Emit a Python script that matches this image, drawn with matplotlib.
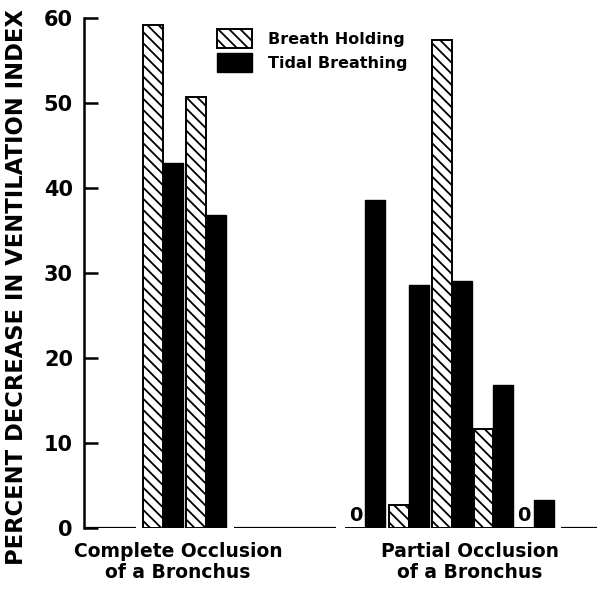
import numpy as np
import matplotlib
matplotlib.use('Agg')
import matplotlib.pyplot as plt
from matplotlib.patches import Patch

# data (percent decrease in ventilation index)
breath_holding = [59.2, 50.7, 0.0, 2.7, 57.4, 11.6, 0.0]
tidal_breathing = [42.9, 36.8, 38.6, 28.6, 29.1, 16.8, 3.3]
group_labels = ['Complete Occlusion\nof a Bronchus', 'Partial Occlusion\nof a Bronchus']
n_complete = 2
yticks = [0, 10, 20, 30, 40, 50, 60]

# layout: pair slots, the partial group is pushed to the right
pair_x = np.array([0.0, 1.0, 4.7, 5.72, 6.72, 7.68, 8.62])
w = 0.46
gap = 0.18

plt.rcParams['font.family'] = ['DejaVu Sans']
plt.rcParams['hatch.linewidth'] = 1.3

fig = plt.figure(figsize=(5.97, 5.89), dpi=100)
ax = fig.add_axes([84 / 597, 61 / 589, 513 / 597, 510 / 589])
ax.set_xlim(-1.84, 10.09)
ax.set_ylim(0, 60)

hb = ax.bar(pair_x - w / 2, breath_holding, width=w, color='white', edgecolor='black',
            linewidth=1.4, hatch='\\\\\\')
tb = ax.bar(pair_x + w / 2, tidal_breathing, width=w, color='black', edgecolor='black',
            linewidth=1.0)

# zero values are marked with a "0"
for x, v in zip(pair_x, breath_holding):
    if v == 0:
        ax.text(x - w / 2, 0.3, '0', ha='center', va='bottom', fontsize=14,
                fontweight='bold')

# broken baseline between the bar groups
left_edge = pair_x - w - gap
right_edge = pair_x + w + gap
xmin, xmax = ax.get_xlim()
ax.hlines(0, xmin, left_edge[0], color='black', lw=1.6)
ax.hlines(0, right_edge[n_complete - 1], left_edge[n_complete] - 0.05, color='black', lw=1.6)
ax.hlines(0, right_edge[-1], xmax, color='black', lw=1.6)

for sp in ['top', 'right', 'bottom']:
    ax.spines[sp].set_visible(False)
ax.spines['left'].set_linewidth(1.8)
ax.set_yticks(yticks)
ax.tick_params(axis='y', direction='in', length=10, width=1.8, labelsize=15, pad=8)
for t in ax.get_yticklabels():
    t.set_fontweight('bold')
ax.set_xticks([])

ax.set_ylabel('PERCENT DECREASE IN VENTILATION INDEX', fontsize=16.3, fontweight='bold')
ax.yaxis.set_label_coords(-0.11, 0.473)

# group labels under the baseline
centers = [pair_x[:n_complete].mean() - 0.15, pair_x[n_complete:].mean() + 0.45]
for c, lab in zip(centers, group_labels):
    ax.text(c, -1.6, lab, ha='center', va='top', fontsize=13.5, fontweight='bold',
            linespacing=1.15)

handles = [Patch(facecolor='white', edgecolor='black', hatch='\\\\\\', lw=1.4),
           Patch(facecolor='black', edgecolor='black')]
ax.legend(handles, ['Breath Holding', 'Tidal Breathing'], loc='upper left',
          bbox_to_anchor=(217 / 597, 1 - 29 / 589), bbox_transform=fig.transFigure,
          frameon=False, borderpad=0, borderaxespad=0, handlelength=2.2,
          handleheight=1.45, handletextpad=1.0, labelspacing=0.3,
          prop={'weight': 'bold', 'size': 11.5})

fig.savefig('out.png', dpi=100)
